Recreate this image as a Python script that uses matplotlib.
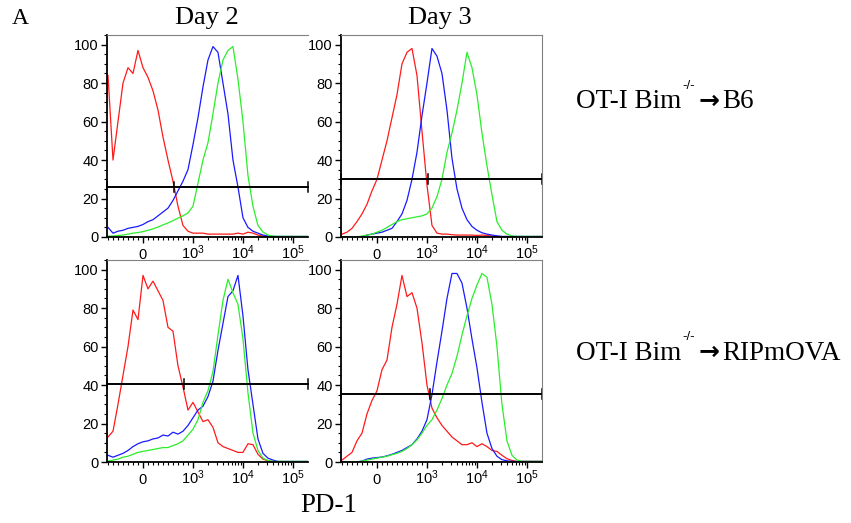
import numpy as np
import matplotlib
matplotlib.use("Agg")
import matplotlib.pyplot as plt
import matplotlib.transforms as mtransforms
from matplotlib.ticker import FixedLocator, MultipleLocator, NullFormatter

plt.rcParams['font.family'] = ['Liberation Sans', 'DejaVu Sans']
plt.rcParams['mathtext.default'] = 'regular'

# PD-1 bin centres (biexponential axis, linear below 10^3)
pd1 = [-700, -600, -500, -400, -300, -200, -100, 0, 100, 200, 300, 400, 500,
       600, 700, 800, 900, 1000, 1259, 1585, 1995, 2512, 3162, 3981, 5012,
       6310, 7943, 10000, 12589, 15849, 19953, 25119, 31623, 39811, 50119,
       63096, 79433, 100000, 125893, 158489, 199526]

x_ticks = [0, 1e3, 1e4, 1e5]
x_tick_labels = ['$0$', '$10^3$', '$10^4$', '$10^5$']

# % of max, Day 2, OT-I Bim-/- -> B6
d2_b6_red = [84, 40, 60, 80, 88, 85, 97, 88, 83, 76, 66, 52, 40, 29, 16, 6, 3,
             2, 2, 2, 1.5, 1.5, 1.5, 1.5, 1.5, 1.5, 2, 1.5, 2.5, 2, 1, 0.5,
             0, 0, 0, 0, 0, 0, 0, 0, 0]
d2_b6_blue = [5, 2, 3, 3.5, 4.5, 5, 5.5, 6.5, 8, 9, 11, 13, 15, 19, 24, 29, 35,
              48, 62, 78, 92, 99, 96, 80, 64, 40, 26, 10, 5, 3, 2, 1, 0.5,
              0.3, 0.3, 0.3, 0.3, 0.3, 0.3, 0.3, 0.3]
d2_b6_green = [0.5, 0.5, 0.8, 1, 1.5, 2, 2.3, 2.8, 3.5, 4.2, 5.2, 6.3, 7.3,
               8.5, 9.8, 11, 12.5, 16, 28, 40, 49, 64, 80, 92, 97, 99, 82, 60,
               32, 16, 6, 2.6, 1, 0.5, 0.3, 0.3, 0.3, 0.3, 0.3, 0.3, 0.3]

# Day 3, B6
d3_b6_red = [1.5, 2.5, 4.5, 8, 12, 17, 24, 30, 40, 50, 62, 74, 90, 96, 98, 84,
             55, 27, 6, 2, 1.5, 1.5, 1.2, 1, 1, 1, 1, 0.8, 1, 0.8, 0.5, 0.3,
             0.2, 0.2, 0.2, 0.2, 0.2, 0.2, 0.2, 0.2, 0.2]
d3_b6_blue = [0, 0, 0, 0, 0, 1, 1.5, 2, 2.5, 3.5, 4.5, 8, 12, 19, 30, 44, 63,
              80, 98, 94, 85, 66, 41, 25, 15, 9, 5.5, 3.5, 2.2, 1.5, 1, 0.6,
              0.3, 0.3, 0.3, 0.3, 0.3, 0.3, 0.3, 0.3, 0.3]
d3_b6_green = [0, 0, 0, 0, 0.5, 1, 1.5, 2.5, 3.5, 5, 6.5, 8, 9, 9.5, 10, 10.5,
               11, 12, 15, 21, 30, 44, 54, 66, 80, 96, 88, 74, 54, 37, 22, 8,
               3.5, 1.5, 0.6, 0.3, 0.3, 0.3, 0.3, 0.3, 0.3]

# Day 2, RIPmOVA
d2_rip_red = [13, 16, 30, 45, 60, 79, 74, 97, 90, 94, 89, 84, 70, 68, 50, 39,
              27, 31, 26, 21, 22, 18, 10, 8, 7, 6, 5, 5, 9.5, 9, 4, 1.5, 0.6,
              0.2, 0.2, 0.2, 0.2, 0.2, 0.2, 0.2, 0.2]
d2_rip_blue = [3.5, 2.5, 3.5, 4.5, 6, 8, 9.5, 10.5, 11, 12, 12.5, 14, 13.5,
               15.5, 14.5, 16, 19, 23, 27, 29, 34, 42, 58, 72, 86, 89, 97, 76,
               48, 30, 12, 4.5, 2, 1, 0.3, 0.3, 0.3, 0.3, 0.3, 0.3, 0.3]
d2_rip_green = [0.5, 1, 1.5, 2.5, 3, 4, 5, 5.5, 6, 6.5, 7, 7.5, 7.5, 8.5, 9.5,
                11, 14, 17, 22, 31, 37, 47, 66, 84, 95, 88, 82, 64, 36, 15, 6,
                2, 0.8, 0.3, 0.3, 0.3, 0.3, 0.3, 0.3, 0.3, 0.3]

# Day 3, RIPmOVA
d3_rip_red = [1, 3, 5, 11, 15, 25, 32, 37, 48, 53, 70, 82, 97, 86, 88, 80, 62,
              40, 28, 23, 19, 16, 13, 11, 9, 9, 10, 8, 9.5, 8, 6, 5.5, 3.5,
              1.7, 0.8, 0.3, 0.3, 0.3, 0.3, 0.3, 0.3]
d3_rip_blue = [0, 0, 0, 0, 0.5, 1.5, 2, 2.3, 2.6, 3.2, 4, 5, 6, 7.5, 9, 12, 16,
               22, 35, 52, 68, 85, 98, 98, 93, 80, 64, 49, 31, 15, 7, 3, 1.2,
               0.6, 0.3, 0.3, 0.3, 0.3, 0.3, 0.3, 0.3]
d3_rip_green = [0, 0, 0, 0, 0.5, 1, 1.5, 2, 2.5, 3, 3.8, 4.5, 5.5, 7, 9, 11.5,
                15, 19, 22, 27, 33, 40, 46, 55, 66, 76, 85, 92, 98, 96, 82, 60,
                30, 11, 3.5, 1, 0.3, 0.3, 0.3, 0.3, 0.3]

# gate marker: (y level, middle cap position)
gates = [(26, 630), (30, 1050), (40.5, 830), (35.5, 1150)]

panels = [
    (d2_b6_red, d2_b6_blue, d2_b6_green),
    (d3_b6_red, d3_b6_blue, d3_b6_green),
    (d2_rip_red, d2_rip_blue, d2_rip_green),
    (d3_rip_red, d3_rip_blue, d3_rip_green),
]

W, H = 851, 523
fig = plt.figure(figsize=(W / 100, H / 100), dpi=100)

# axes boxes in pixels: left, top, width, height
boxes = [(107, 35, 201, 202), (341, 35, 201, 202),
         (107, 260, 201, 202), (341, 260, 201, 202)]

xmin, xmax = -720, 200000
minor_x = list(range(-700, 1000, 100))
for dec in [1e3, 1e4, 1e5]:
    minor_x += [k * dec for k in range(2, 10) if k * dec < xmax]

for i, (curves, box, gate) in enumerate(zip(panels, boxes, gates)):
    l, t, w, h = box
    ax = fig.add_axes([l / W, 1 - (t + h) / H, w / W, h / H])
    ax.set_xscale('symlog', linthresh=1000, linscale=0.9)
    for ys, c in zip(curves, ['#ff1a1a', '#1a1aff', '#2aee2a']):
        ax.plot(pd1, ys, color=c, lw=0.9)
    gy, gx = gate
    ax.plot([xmin, xmax], [gy, gy], color='black', lw=1.4, clip_on=False)
    for cx in [xmin, gx, xmax]:
        ax.plot([cx, cx], [gy - 2.5, gy + 2.5], color='black', lw=1.1,
                clip_on=False)
    ax.set_xlim(xmin, xmax)
    ax.set_ylim(0, 105)
    ax.xaxis.set_major_locator(FixedLocator(x_ticks))
    ax.xaxis.set_minor_locator(FixedLocator(minor_x))
    ax.xaxis.set_major_formatter(NullFormatter())
    # x tick labels sit on a common baseline
    trans = ax.get_xaxis_transform() + mtransforms.ScaledTranslation(
        0, -0.22, fig.dpi_scale_trans)
    for xv, lab in zip(x_ticks, x_tick_labels):
        ax.text(xv, 0, lab, transform=trans, ha='center', va='baseline',
                fontsize=10.5)
    ax.yaxis.set_major_locator(MultipleLocator(20))
    ax.yaxis.set_minor_locator(MultipleLocator(5))
    ax.tick_params(which='major', length=4, width=1, labelsize=10.5, pad=2)
    ax.tick_params(which='minor', length=2.2, width=0.8)
    for s in ['left', 'bottom']:
        ax.spines[s].set_linewidth(1.3)
    ax.spines['top'].set_linewidth(0.8)
    ax.spines['top'].set_color('#808080')
    if i % 2 == 1:
        ax.spines['right'].set_linewidth(0.8)
        ax.spines['right'].set_color('#808080')
    else:
        ax.spines['right'].set_visible(False)

serif = ['Liberation Serif', 'DejaVu Serif']
fig.text(12 / W, 1 - 18 / H, 'A', family=serif, fontsize=17, va='center')
fig.text(207 / W, 1 - 18 / H, 'Day 2', family=serif, fontsize=19,
         ha='center', va='center')
fig.text(440 / W, 1 - 18 / H, 'Day 3', family=serif, fontsize=19,
         ha='center', va='center')
fig.text(329 / W, 1 - 506 / H, 'PD-1', family=serif, fontsize=19.5,
         ha='center', va='center')

for y, target in [(102, 'B6'), (353, 'RIPmOVA')]:
    fig.text(576 / W, 1 - y / H, 'OT-I Bim', family=serif, fontsize=19.5,
             va='center')
    fig.text(682 / W, 1 - (y - 16) / H, '-/-', fontsize=9.5, va='center')
    fig.text(699 / W, 1 - (y - 1) / H, '\u2192', fontsize=18,
             fontweight='bold', family=['DejaVu Sans'], va='center')
    fig.text(722 / W, 1 - y / H, target, family=serif, fontsize=19.5,
             va='center')

fig.savefig('out.png', dpi=100)
